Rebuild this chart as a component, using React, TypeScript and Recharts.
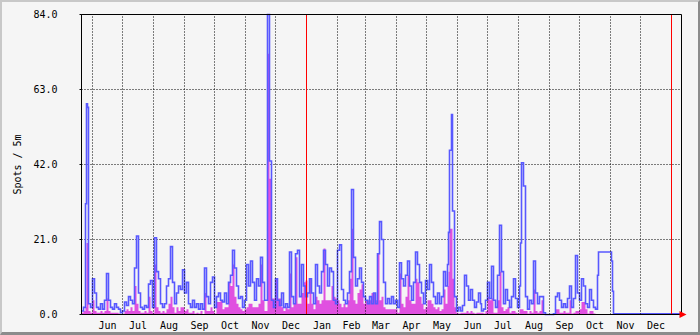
import React from 'react';
import { ComposedChart, Area, Line, XAxis, YAxis, CartesianGrid, ReferenceLine, ReferenceDot } from 'recharts';

// day offsets from the start of the window (one step = one day, day 0 = May 21)
const days = [
  0, 2, 4, 5, 6, 7, 9, 11, 13, 15, 17, 19, 21, 23, 25, 27, 29, 31, 33, 35, 37, 39,
  41, 43, 45, 47, 49, 51, 53, 55, 57, 59, 61, 63, 65, 67, 69, 71, 73, 75, 77, 79,
  81, 83, 85, 87, 89, 91, 93, 95, 97, 99, 101, 103, 105, 107, 109, 111, 113, 115, 117, 119,
  121, 123, 125, 127, 129, 131, 133, 135, 137, 139, 141, 143, 145, 147, 149, 151, 153, 155, 157, 159,
  161, 163, 165, 167, 169, 171, 173, 175, 177, 179, 181, 183, 185, 186, 188, 190, 192, 194, 196, 198,
  200, 202, 204, 206, 208, 210, 212, 214, 216, 218, 220, 222, 224, 226, 228, 230, 232, 234, 236, 238,
  240, 242, 244, 246, 248, 250, 252, 254, 256, 258, 260, 262, 264, 266, 268, 270, 272, 274, 276, 278,
  280, 282, 284, 286, 288, 290, 292, 294, 296, 298, 300, 302, 304, 306, 308, 310, 312, 314, 316, 318,
  320, 322, 324, 326, 328, 330, 332, 334, 336, 338, 340, 342, 344, 346, 348, 350, 352, 354, 356, 358,
  360, 362, 364, 366, 367, 368, 370, 371, 373, 375, 377, 379, 381, 383, 385, 387, 389, 391, 393, 395,
  397, 399, 400, 402, 404, 406, 408, 410, 412, 414, 416, 418, 420, 422, 424, 426, 428, 430, 432, 434,
  436, 438, 439, 440, 442, 444, 446, 448, 450, 452, 454, 456, 458, 460, 462, 464, 472, 474, 476, 478,
  480, 482, 484, 486, 488, 490, 492, 494, 496, 498, 500, 502, 504, 506, 508, 510, 512, 514, 516, 517,
  530, 531, 532, 600,
];

// blue line: spots per 5 minutes
const spotsBlue = [
  1, 2, 31, 59, 58, 3, 2, 10, 6, 2, 1.5, 3, 1.5, 4, 11.5, 4, 2, 1.5, 3, 2, 1.5, 0.5,
  1, 3.5, 2.5, 5, 4, 3, 13, 22, 6, 2, 1.5, 2.5, 2, 8.5, 9.5, 2, 21.5, 12, 10, 3,
  2, 3, 8, 10, 19, 9, 3, 6, 8, 7, 12.5, 6, 9, 3, 2, 4, 2, 3, 1.5, 3,
  1.5, 13, 5, 3, 9, 10.5, 2, 5, 6, 4, 3.5, 6, 3, 9, 11, 18, 13, 8, 4.5, 5,
  2, 4, 14, 8, 15, 9, 4, 10, 8, 16, 9, 4, 4, 84, 43, 4, 2, 10, 4, 2.5,
  6, 2, 3, 2, 17.5, 5, 3, 17, 18, 5, 14, 8, 5, 6, 10, 6, 3, 14, 8, 6,
  12, 18, 14, 8, 13, 12, 4, 3, 18, 19.5, 7, 4, 3, 6, 12, 35, 16, 8, 10, 13,
  9, 5, 4, 3, 5, 3, 6, 3, 17, 26, 21, 9, 3, 4.5, 3, 5, 3, 4, 2, 14.5,
  10, 8, 11, 15, 8, 4, 9, 17.5, 14, 9, 6, 3, 9.5, 7, 14, 9, 5, 3, 6, 3,
  5, 12, 8, 14, 23, 46, 56, 29, 5, 1, 2, 1, 2.5, 11, 8, 4, 7, 4, 2, 3.5,
  6, 3, 1, 1.5, 4, 9, 4.5, 13.5, 4, 2, 11, 25, 12, 3, 7, 4, 2, 5, 10, 4.5,
  2, 8, 20, 42.5, 36, 5, 1.5, 4, 3, 15, 6, 3, 5, 5, 0.5, 0, 0.2, 5, 6, 4,
  2, 3, 2, 4.5, 8, 2, 4.5, 16.5, 6, 4, 10, 8, 3, 2, 7, 4, 2, 1.5, 11, 17.5,
  15, 6.5, 0.2, 0.2,
];

// magenta area
const spotsMagenta = [
  0.5, 1, 2, 20, 20, 1, 0.5, 4, 1, 0.5, 0.5, 1, 0.5, 1, 4.5, 1, 0.5, 0.5, 0.5, 0.5, 0.3, 0,
  0.2, 1, 1.5, 1, 2, 1, 8, 3, 1, 0.5, 0.5, 1, 0.5, 5, 1, 0.5, 14, 2, 1, 0.5,
  1, 0.5, 1.5, 3, 5, 2, 0.5, 2, 1, 2, 2, 1, 1.5, 0.5, 0.5, 1, 0.3, 0.5, 0.3, 1,
  0, 6, 1, 1, 2, 1, 0.3, 3.5, 3.5, 4, 1.5, 2, 2, 9, 8, 14, 5, 3, 2, 1.5,
  1, 1.5, 2, 3, 3, 2, 2, 2, 3, 14, 4, 1, 1, 73, 38, 4.5, 4.5, 10, 4.5, 4.5,
  2, 1, 2, 1.5, 11.5, 2, 3, 16, 3, 3, 6, 9, 9.5, 3, 10, 3, 1.5, 5, 4, 3,
  4, 18.5, 4, 4, 4, 8, 5, 4.5, 4, 3, 2, 3, 2, 4, 10, 24, 4, 3, 6, 7,
  8.5, 3, 4, 4, 4, 6, 6, 4, 17, 4, 5, 2, 1.5, 1.5, 1.5, 1.5, 1.5, 1.5, 0.5, 11.5,
  3, 2, 5, 11, 4, 3, 3, 10, 9, 5, 3, 1.5, 2, 4, 4, 3, 2, 1.5, 2, 1,
  1.5, 7, 3, 8, 12, 24, 24, 10, 2, 0.5, 0.3, 0.5, 0.5, 0.5, 1, 0.5, 1, 0.5, 0.3, 0.5,
  0.5, 0.5, 0.5, 0.3, 1, 5, 4, 4.5, 0.5, 0.5, 4, 12, 2, 1, 1.5, 2, 0.5, 1, 1, 0.5,
  0.3, 1.5, 1.5, 1.5, 1, 1, 0.3, 1, 0.5, 7, 1, 0.5, 1, 4, 0.3, 0, 0, 1.5, 1.5, 0.5,
  0.5, 1, 0.5, 0.5, 4, 0.3, 0.5, 1, 1, 1.5, 3.5, 3.5, 1.5, 0.3, 1, 1, 0.3, 0, 0, 0,
  0, 0, 0, 0,
];

// month boundaries (day offsets of the 1st of each month) and labels
const monthStarts = [11, 41, 72, 103, 133, 164, 194, 225, 256, 284, 315, 345, 376, 406, 437, 468, 498, 529, 559, 590];
const monthLabels = ['Jun', 'Jul', 'Aug', 'Sep', 'Oct', 'Nov', 'Dec', 'Jan', 'Feb', 'Mar', 'Apr', 'May', 'Jun', 'Jul', 'Aug', 'Sep', 'Oct', 'Nov', 'Dec'];
const yearStarts = [225, 590];
const yTicks = [0, 21, 42, 63, 84];

const data = days.map((d, i) => ({ day: d, blue: spotsBlue[i], mag: spotsMagenta[i] }));
const monthMids = monthLabels.map((_, i) => (monthStarts[i] + monthStarts[i + 1]) / 2);

const FONT = 'DejaVu Sans Mono';

const arrowShape = (p: any) => {
  const { cx, cy } = p;
  return <polygon points={`${cx - 2},${cy - 3.5} ${cx + 5},${cy} ${cx - 2},${cy + 3.5}`} fill="#FF0000" />;
};

const yLabel = (p: any) => {
  const vb = p.viewBox;
  const x = vb.x + 11.5;
  const y = vb.y + vb.height / 2;
  return (
    <text x={x} y={y} transform={`rotate(-90 ${x} ${y})`} textAnchor="middle" dominantBaseline="central"
      fontFamily={FONT} fontSize={10} fill="#000">Spots / 5m</text>
  );
};

export default function App() {
  return (
    <div style={{ position: 'absolute', left: 0, top: 0, width: 700, height: 335, background: '#F5F5F5' }}>
      <ComposedChart width={700} height={335} data={data}
        margin={{ top: 14.5, right: 18.5, left: 5.5, bottom: 0.5 }}>
        <CartesianGrid horizontal vertical={false} stroke="#000" strokeDasharray="1 2" />
        <XAxis dataKey="day" type="number" domain={[0, 600]} ticks={monthMids}
          tickFormatter={(v: number) => monthLabels[monthMids.indexOf(v)] ?? ''}
          tickLine={false} tickSize={0} tickMargin={7} height={20} interval={0}
          axisLine={{ stroke: '#000' }} tick={{ fontFamily: FONT, fontSize: 10, fill: '#000' }} />
        <YAxis domain={[0, 84]} ticks={yTicks} width={76} tickSize={2} tickMargin={22}
          tickFormatter={(v: number) => v.toFixed(1)} interval={0}
          axisLine={{ stroke: '#000' }} tickLine={{ stroke: '#000' }}
          tick={{ fontFamily: FONT, fontSize: 10, fill: '#000' }}
          label={{ content: yLabel }} />
        <Area type="stepAfter" dataKey="mag" fill="#E050E0" fillOpacity={1} stroke="none" isAnimationActive={false} />
        <Line type="stepAfter" dataKey="blue" stroke="#5858FF" strokeWidth={1.6} dot={false} isAnimationActive={false} />
        {monthStarts.filter((m) => !yearStarts.includes(m)).map((m) => (
          <ReferenceLine key={'m' + m} x={m} stroke="#000" strokeDasharray="1 2" />
        ))}
        {yearStarts.map((m) => (
          <ReferenceLine key={'y' + m} x={m} stroke="#FF0000" strokeWidth={1} />
        ))}
        <ReferenceLine y={84} stroke="#000" />
        <ReferenceLine x={600} stroke="#000" />
        <ReferenceDot x={600} y={0} r={3} shape={arrowShape} ifOverflow="visible" />
      </ComposedChart>
      <div style={{
        position: 'absolute', left: 0, top: 0, width: 700, height: 335, boxSizing: 'border-box',
        borderTop: '2px solid #C8C8C8', borderLeft: '2px solid #C8C8C8',
        borderRight: '2px solid #8C8C8C', borderBottom: '3px solid #8C8C8C', pointerEvents: 'none',
      }} />
    </div>
  );
}
